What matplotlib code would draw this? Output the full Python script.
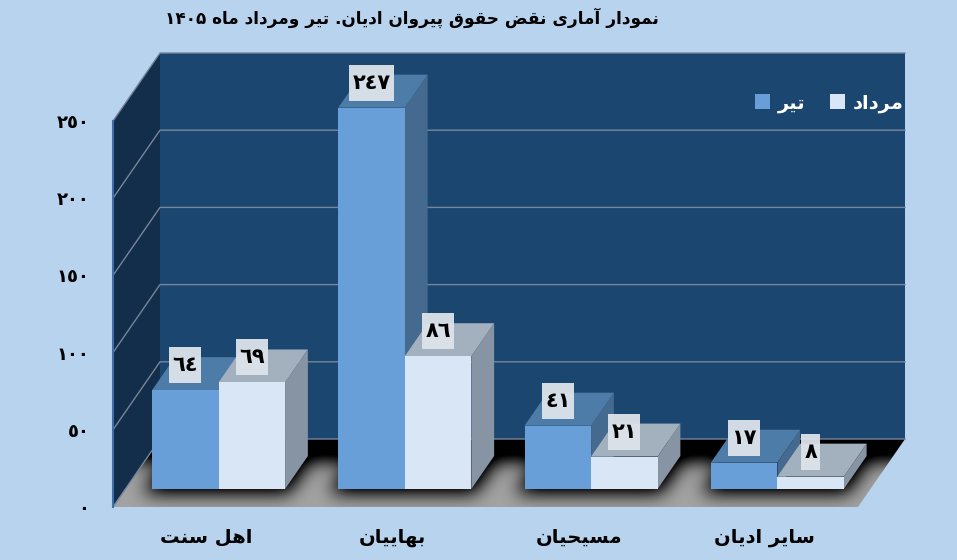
import re
import matplotlib
matplotlib.use('Agg')
import matplotlib.pyplot as plt
import numpy as np
from matplotlib.colors import to_rgb
from matplotlib.patches import Polygon, Rectangle

categories = ["اهل سنت", "بهاییان", "مسیحیان", "سایر ادیان"]
tir = [64, 247, 41, 17]
mordad = [69, 86, 21, 8]
ticks = [0, 50, 100, 150, 200, 250]
series_names = ["تیر", "مرداد"]
title = "نمودار آماری نقض حقوق پیروان ادیان. تیر ومرداد ماه ۱۴۰۵"

# matplotlib does not shape Arabic script: use presentation forms (isolated, final, initial, medial)
FORMS = {
    'ا': (0xFE8D, 0xFE8E), 'آ': (0xFE81, 0xFE82), 'د': (0xFEA9, 0xFEAA),
    'ر': (0xFEAD, 0xFEAE), 'و': (0xFEED, 0xFEEE),
    'ب': (0xFE8F, 0xFE90, 0xFE91, 0xFE92), 'پ': (0xFB56, 0xFB57, 0xFB58, 0xFB59),
    'ت': (0xFE95, 0xFE96, 0xFE97, 0xFE98), 'ح': (0xFEA1, 0xFEA2, 0xFEA3, 0xFEA4),
    'س': (0xFEB1, 0xFEB2, 0xFEB3, 0xFEB4), 'ض': (0xFEBD, 0xFEBE, 0xFEBF, 0xFEC0),
    'ق': (0xFED5, 0xFED6, 0xFED7, 0xFED8), 'ل': (0xFEDD, 0xFEDE, 0xFEDF, 0xFEE0),
    'م': (0xFEE1, 0xFEE2, 0xFEE3, 0xFEE4), 'ن': (0xFEE5, 0xFEE6, 0xFEE7, 0xFEE8),
    'ه': (0xFEE9, 0xFEEA, 0xFEEB, 0xFEEC), 'ی': (0xFBFC, 0xFBFD, 0xFBFE, 0xFBFF),
}


def rtl(text):
    out = []
    for i, c in enumerate(text):
        if c not in FORMS:
            out.append(c)
            continue
        prev = text[i - 1] if i else ''
        nxt = text[i + 1] if i + 1 < len(text) else ''
        joins_prev = prev in FORMS and len(FORMS[prev]) == 4
        joins_next = nxt in FORMS and len(FORMS[c]) == 4
        if joins_prev and joins_next:
            code = FORMS[c][3]
        elif joins_next:
            code = FORMS[c][2]
        elif joins_prev:
            code = FORMS[c][1]
        else:
            code = FORMS[c][0]
        out.append(chr(code))
    shaped = ''.join(out)[::-1]
    return re.sub(r'[۰-۹٠-٩]+', lambda m: m.group(0)[::-1], shaped)


def digits(value):
    # arabic-indic digits, as in the reference
    return ''.join(chr(0x0660 + int(d)) for d in str(value))


BG = '#B8D3EE'
WALL = '#1B4670'
SIDE = '#122E4B'
GRID = '#77859A'
FLOOR = '#A3A3A3'
BLUE = ('#689FD8', '#4E7CA8', '#456A90')  # front, top, side
WHITE = ('#D8E6F6', '#A3B0BE', '#8694A3')

plt.rcParams['font.family'] = 'DejaVu Sans'
plt.rcParams['font.weight'] = 'bold'

W, H = 957, 560
fig = plt.figure(figsize=(W / 100, H / 100), dpi=100, facecolor=BG)
# front plane of the fake 3d box: x 113-858 px, y 507-121 px
ax = fig.add_axes([113 / W, 1 - 507 / H, 745 / W, 386 / H])
ax.set_xlim(0, len(categories))
ax.set_ylim(0, 250)
ax.patch.set_visible(False)
for s in ax.spines.values():
    s.set_visible(False)

PX_X = 745 / len(categories)
PX_Y = 386 / 250
DX = 47 / PX_X  # full depth of the floor
DY = 68 / PX_Y
BAR_W = 66.5 / PX_X
NEAR = 18 / 68  # bars start here in the depth
FAR = 51 / 68


def poly(points, color, z):
    ax.add_patch(Polygon(points, closed=True, fc=color, ec='none', zorder=z, clip_on=False))


n = len(categories)
top = ticks[-1]
# walls
poly([(DX, DY), (n + DX, DY), (n + DX, DY + top), (DX, DY + top)], WALL, 1)
poly([(0, 0), (DX, DY), (DX, DY + top), (0, top)], SIDE, 1)
floor_pts = [(0, 0), (n, 0), (n + DX, DY), (DX, DY)]

# soft shadow on the floor, wider than the bars and fading towards the front
fw, fh = 792, 68
mask = np.zeros((fh, fw))
mask[:22, :] = 1
for i in range(n):
    left = (i + 0.5 - BAR_W + DX * NEAR) * PX_X - 6
    right = (i + 0.5 + BAR_W + DX * NEAR) * PX_X + 6
    for row in range(int(68 * (1 - FAR)), int(68 * (1 - NEAR)) + 4):
        shift = (68 * (1 - NEAR) - row) * 47 / 68
        mask[row, int(left + shift):int(right + shift)] = 1
kernel = np.exp(-0.5 * (np.arange(-30, 31) / 9.0) ** 2)
kernel /= kernel.sum()
pad = np.pad(mask, 30, mode='edge')
pad = np.apply_along_axis(lambda r: np.convolve(r, kernel, mode='same'), 0, pad)
pad = np.apply_along_axis(lambda r: np.convolve(r, kernel, mode='same'), 1, pad)
blur = pad[30:-30, 30:-30]
shade = 1 - np.clip(blur * 1.3, 0, 1)
floor_img = shade[..., None] * np.array(to_rgb(FLOOR))
im = ax.imshow(floor_img, extent=(0, n + DX, 0, DY), aspect='auto', zorder=1.5,
               interpolation='bilinear')
clip = Polygon(floor_pts, closed=True, transform=ax.transData)
im.set_clip_path(clip)
im.set_clip_box(fig.bbox)
ax.set_xlim(0, n)
ax.set_ylim(0, 250)

# gridlines along side wall and back wall
for t in ticks:
    ax.plot([0, DX, n + DX], [t, t + DY, t + DY], color=GRID, lw=1.0, zorder=2, clip_on=False)
ax.plot([0, 0], [0, top], color='#3F6FA8', lw=1.5, zorder=2, clip_on=False)


def bar3d(x, value, colors):
    dx = DX * (FAR - NEAR)
    dy = DY * (FAR - NEAR)
    x0 = x + DX * NEAR
    y0 = DY * NEAR
    front, upper, side = colors
    x1 = x0 + BAR_W
    y1 = y0 + value
    poly([(x1, y0), (x1 + dx, y0 + dy), (x1 + dx, y1 + dy), (x1, y1)], side, 3)
    poly([(x0, y1), (x1, y1), (x1 + dx, y1 + dy), (x0 + dx, y1 + dy)], upper, 3)
    poly([(x0, y0), (x1, y0), (x1, y1), (x0, y1)], front, 3)


def value_label(x, value):
    cx = x + DX * NEAR + BAR_W / 2
    cy = DY * NEAR + value + 25 / PX_Y
    txt = digits(value)
    w = (6 + 13 * len(txt)) / PX_X
    h = 36 / PX_Y
    ax.add_patch(Rectangle((cx - w / 2, cy - h / 2), w, h, fc='#DDE3EA', ec='none',
                           alpha=0.95, zorder=5, clip_on=False))
    ax.text(cx, cy, txt, ha='center', va='center', fontsize=15, color='black',
            zorder=6, clip_on=False)


for i in range(n):
    bar3d(i + 0.5 - BAR_W, tir[i], BLUE)
    bar3d(i + 0.5, mordad[i], WHITE)
for i in range(n):
    value_label(i + 0.5 - BAR_W, tir[i])
    value_label(i + 0.5, mordad[i])

ax.set_yticks(ticks)
ax.set_yticklabels([digits(t) for t in ticks], fontsize=13, color='black')
ax.set_xticks(np.arange(n) + 0.5)
ax.set_xticklabels([rtl(c) for c in categories], fontsize=14, color='black')
ax.tick_params(axis='y', length=0, pad=17)
ax.tick_params(axis='x', length=0, pad=15)

fig.text(412 / W, 1 - 18 / H, rtl(title), ha='center', va='center', fontsize=12.2, color='black')

handles = [Rectangle((0, 0), 1, 1, fc=BLUE[0], ec='none'), Rectangle((0, 0), 1, 1, fc=WHITE[0], ec='none')]
leg = fig.legend(handles, [rtl(s) for s in series_names], ncol=2, frameon=False,
                 loc='center right', bbox_to_anchor=(904 / W, 1 - 103 / H),
                 prop={'size': 14, 'weight': 'bold'}, labelcolor='white',
                 handlelength=0.78, handleheight=0.78, handletextpad=0.42, columnspacing=1.25,
                 borderpad=0, borderaxespad=0)

fig.savefig('out.png', dpi=100, facecolor=BG)
